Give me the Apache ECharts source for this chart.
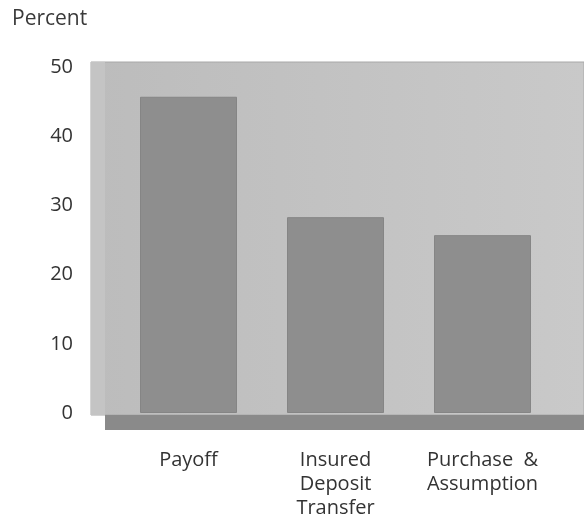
<!DOCTYPE html>
<html>
<head>
<meta charset="utf-8">
<script src="https://cdn.jsdelivr.net/npm/echarts@6/dist/echarts.min.js"></script>
<style>
	html, body { margin: 0; padding: 0; background: #fff; }
	#main { width: 584px; height: 517px; }
</style>
</head>
<body>
<div id="main"></div>
<script>
	// 数据
	var categories = ['Payoff', 'Insured\nDeposit\nTransfer', 'Purchase  &\nAssumption'];
	var percentValues = [45.7, 28.3, 25.7];
	var yTicks = [0, 10, 20, 30, 40, 50];

	var myChart = echarts.init(document.getElementById('main'));
	var fontFam = '"Open Sans", Lato, sans-serif';

	var option = {
		backgroundColor: '#ffffff',
		animation: false,
		title: {
			text: 'Percent',
			left: 7,
			top: 4,
			textStyle: { fontFamily: fontFam, fontSize: 21, fontWeight: 'normal', color: '#3a3a3a' }
		},
		// 背景框和底座
		graphic: [{
			type: 'rect',
			z: -10,
			shape: { x: 91, y: 62, width: 493, height: 353 },
			style: {
				fill: new echarts.graphic.LinearGradient(0, 0, 1, 0, [
					{ offset: 0, color: '#bcbcbc' },
					{ offset: 1, color: '#c9c9c9' }
				]),
				stroke: '#a8a8a8',
				lineWidth: 1
			}
		}, {
			type: 'rect',
			z: -10,
			shape: { x: 91, y: 62, width: 14, height: 353 },
			style: { fill: '#c4c4c4' }
		}, {
			type: 'rect',
			z: -10,
			shape: { x: 105, y: 415, width: 479, height: 15 },
			style: { fill: '#8a8a8a' }
		}],
		grid: {
			left: 115,
			right: 28,
			top: 67,
			bottom: 104,
			containLabel: false,
			outerBoundsMode: 'none'
		},
		xAxis: {
			type: 'category',
			data: categories,
			axisLine: { show: false },
			axisTick: { show: false },
			axisLabel: {
				margin: 35,
				verticalAlign: 'top',
				fontFamily: fontFam,
				fontSize: 20,
				lineHeight: 24,
				color: '#333'
			}
		},
		yAxis: {
			type: 'value',
			min: yTicks[0],
			max: yTicks[yTicks.length - 1],
			interval: 10,
			splitLine: { show: false },
			axisLine: { show: false },
			axisTick: { show: false },
			axisLabel: {
				margin: 42,
				fontFamily: fontFam,
				fontSize: 20,
				color: '#333'
			}
		},
		series: [{
			type: 'bar',
			data: percentValues,
			barWidth: 97,
			itemStyle: {
				color: '#8e8e8e',
				borderColor: '#858585',
				borderWidth: 1
			}
		}]
	};
	myChart.setOption(option);
</script>
</body>
</html>
